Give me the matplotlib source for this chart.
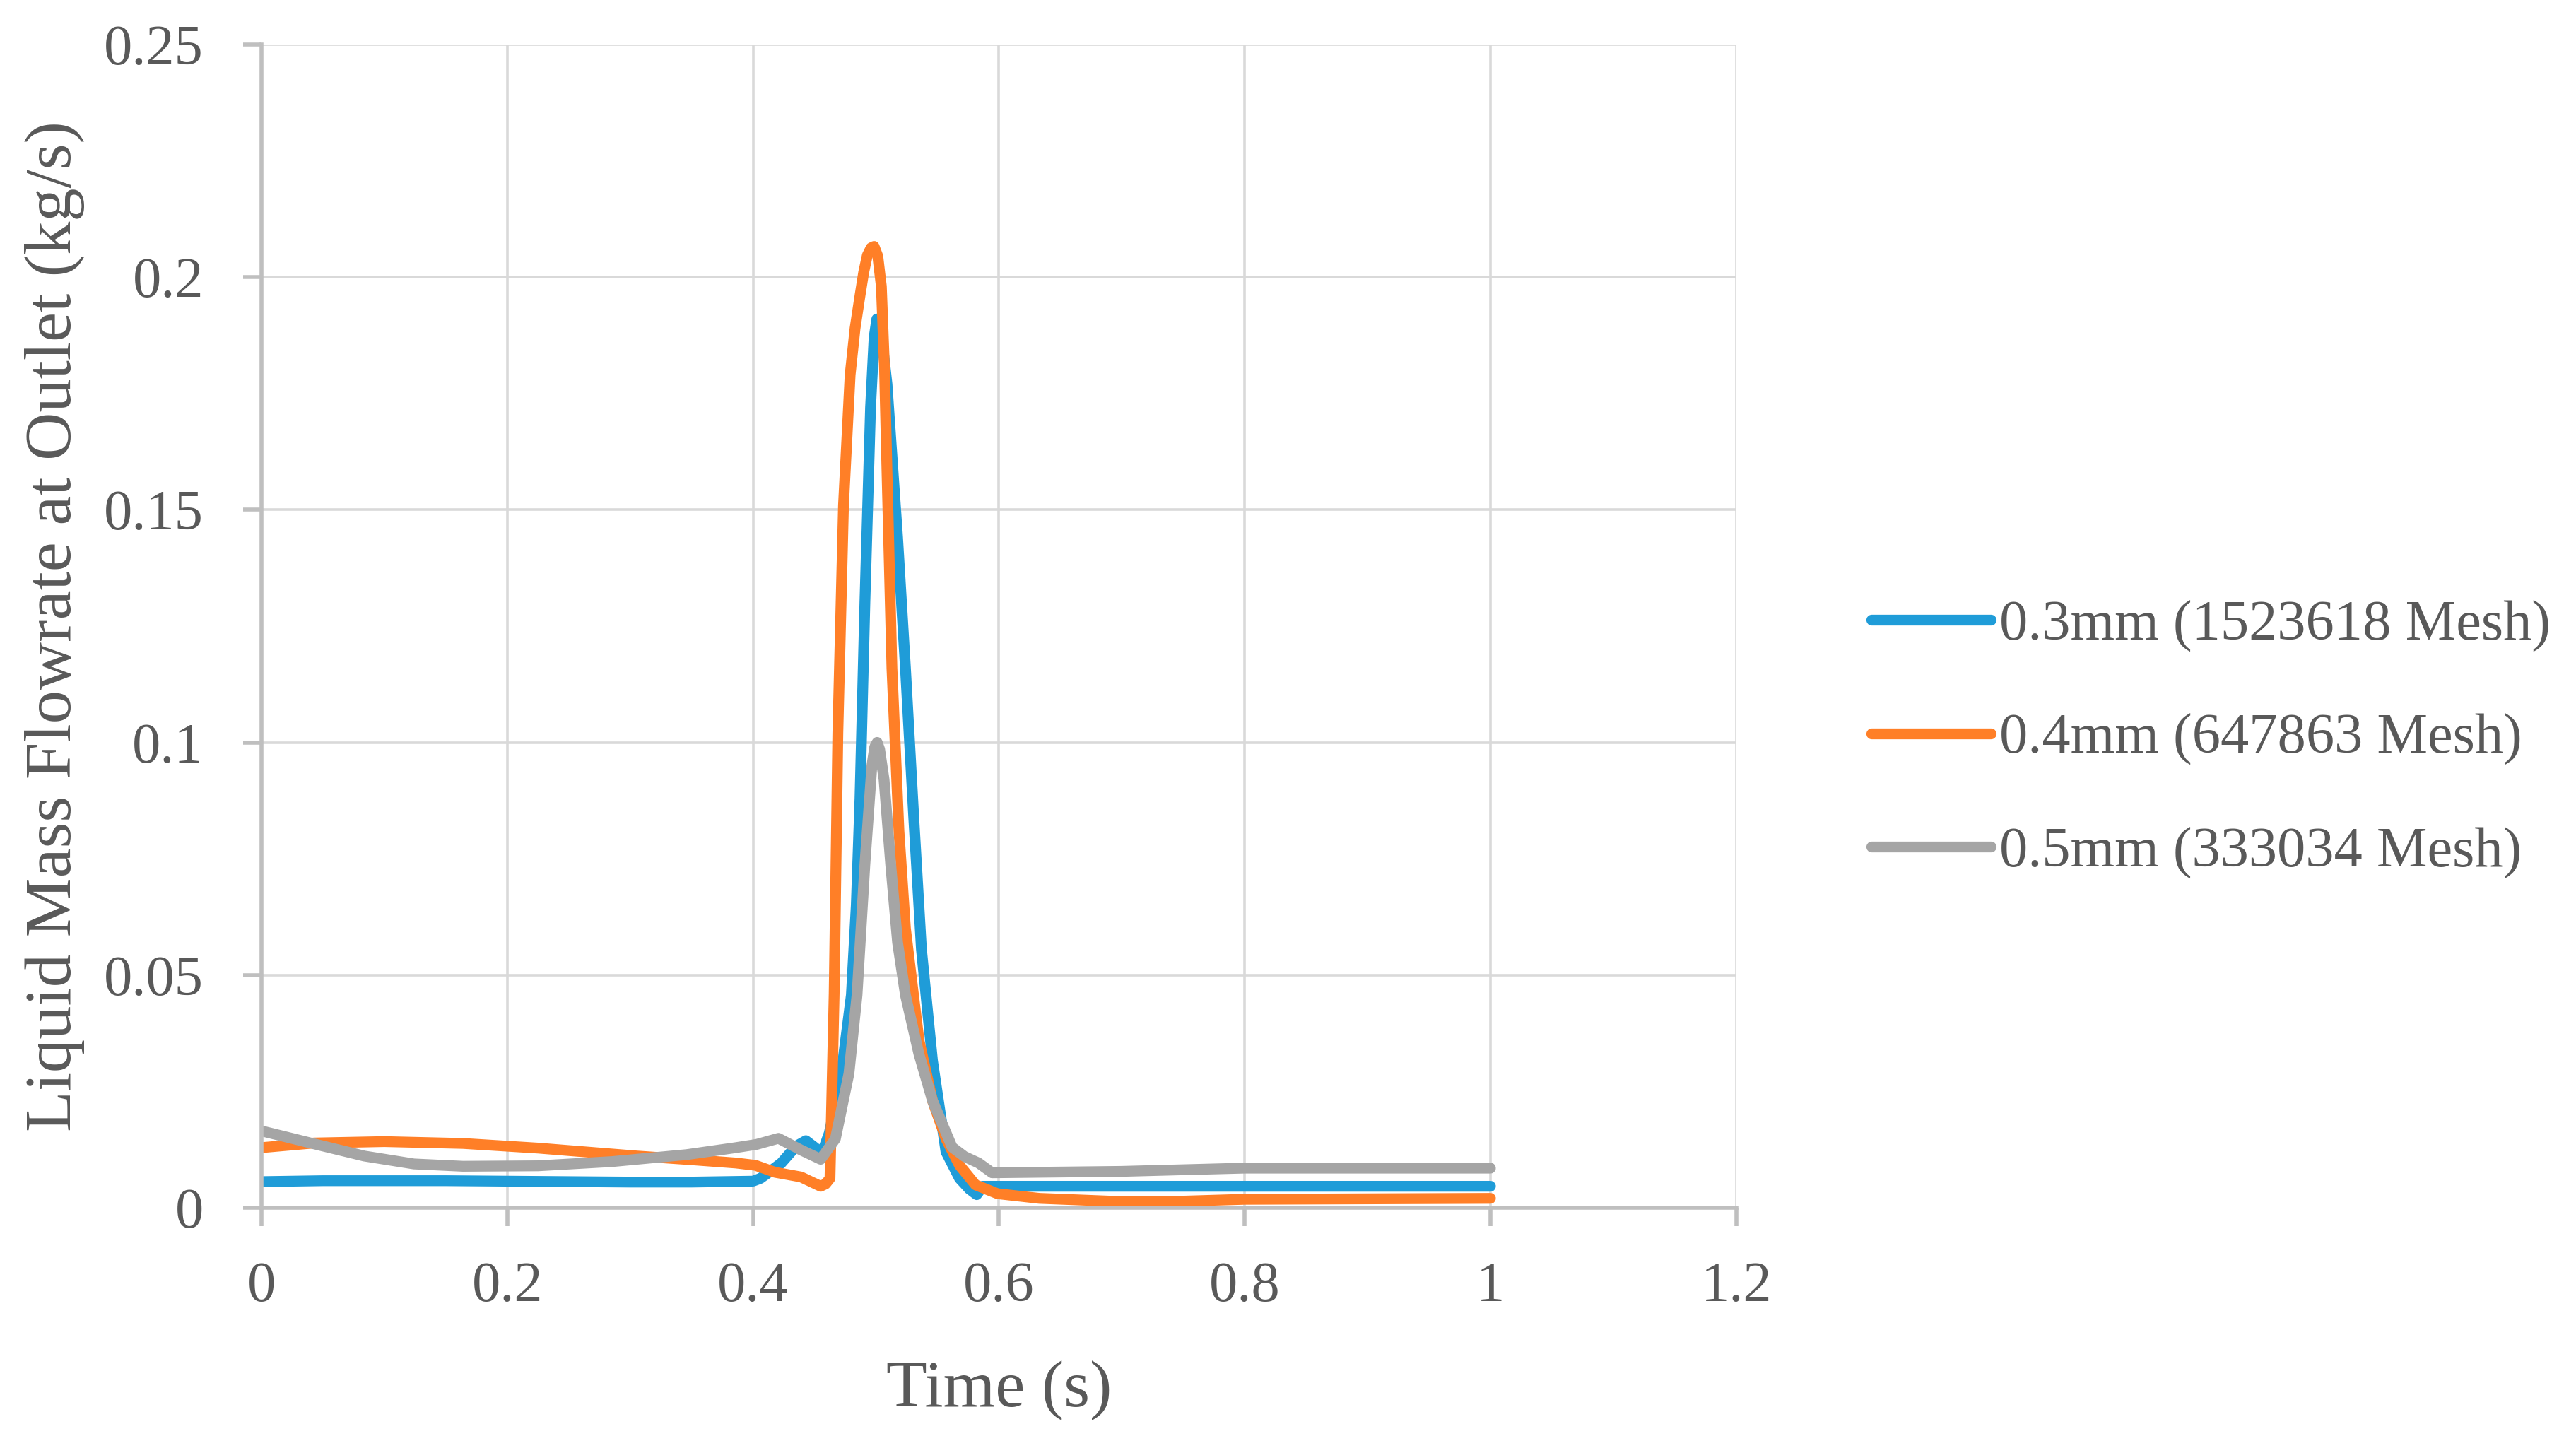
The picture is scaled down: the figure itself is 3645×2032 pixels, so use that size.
import matplotlib
matplotlib.use("Agg")
import matplotlib.pyplot as plt
from matplotlib.ticker import FormatStrFormatter

# values (time in s, flowrate in kg/s)
t_03 = [0, 0.05, 0.1, 0.15, 0.2, 0.25, 0.3, 0.35, 0.4, 0.406, 0.415, 0.423, 0.435,
        0.443, 0.45, 0.456, 0.462, 0.471, 0.48, 0.484, 0.487, 0.491, 0.4956, 0.4985,
        0.5007, 0.503, 0.506, 0.509, 0.5176, 0.524, 0.5308, 0.537, 0.546, 0.557,
        0.568, 0.576, 0.582, 0.587, 0.6, 0.7, 0.8, 0.9, 1.0]
q_03 = [0.0056, 0.0058, 0.0058, 0.0058, 0.0057, 0.0056, 0.0055, 0.0055, 0.0057, 0.0063,
        0.0080, 0.0096, 0.0132, 0.0144, 0.0130, 0.0116, 0.0160, 0.0270, 0.0457, 0.0650,
        0.0880, 0.1300, 0.1720, 0.1870, 0.1910, 0.1890, 0.1840, 0.1770, 0.1440, 0.1160,
        0.0837, 0.0556, 0.0316, 0.0120, 0.0063, 0.0040, 0.0028, 0.0046, 0.0046, 0.0046,
        0.0046, 0.0046, 0.0046]

t_04 = [0, 0.043, 0.1, 0.164, 0.225, 0.3056, 0.35, 0.386, 0.402, 0.418, 0.439, 0.455,
        0.459, 0.4626, 0.466, 0.469, 0.4736, 0.479, 0.483, 0.487, 0.490, 0.493, 0.496,
        0.4985, 0.5015, 0.5044, 0.507, 0.509, 0.513, 0.5187, 0.524, 0.535, 0.546,
        0.557, 0.568, 0.581, 0.599, 0.633, 0.7, 0.75, 0.8, 0.9, 1.0]
q_04 = [0.0129, 0.0139, 0.0142, 0.0138, 0.0128, 0.0111, 0.0103, 0.0096, 0.0091, 0.0076,
        0.0066, 0.0046, 0.0051, 0.0063, 0.0460, 0.1020, 0.1510, 0.1790, 0.1890, 0.1960,
        0.2010, 0.2047, 0.2063, 0.2066, 0.2045, 0.1980, 0.1800, 0.1580, 0.1160, 0.0810,
        0.0600, 0.0360, 0.0230, 0.0148, 0.0091, 0.0049, 0.0030, 0.0020, 0.0013, 0.0014,
        0.0018, 0.0019, 0.0020]

t_05 = [0, 0.043, 0.0836, 0.124, 0.164, 0.225, 0.285, 0.346, 0.386, 0.403, 0.4207,
        0.439, 0.455, 0.467, 0.478, 0.4846, 0.491, 0.4967, 0.499, 0.501, 0.503, 0.5066,
        0.512, 0.5176, 0.524, 0.535, 0.546, 0.562, 0.572, 0.5835, 0.5945, 0.6995, 0.8,
        0.9, 1.0]
q_05 = [0.0165, 0.0137, 0.0111, 0.0094, 0.0089, 0.0090, 0.0099, 0.0114, 0.0129, 0.0136,
        0.0149, 0.0124, 0.0104, 0.0148, 0.0288, 0.0457, 0.0738, 0.0950, 0.0990, 0.1000,
        0.0985, 0.0920, 0.0738, 0.0570, 0.0457, 0.0330, 0.0230, 0.0130, 0.0110, 0.0096,
        0.0075, 0.0078, 0.0085, 0.0085, 0.0085]

labels = ["0.3mm (1523618 Mesh)", "0.4mm (647863 Mesh)", "0.5mm (333034 Mesh)"]
colors = ["#1F9CD8", "#FF7F27", "#A5A5A5"]

text_color = "#595959"
plt.rcParams["font.family"] = ["Liberation Serif", "DejaVu Serif"]
plt.rcParams["font.size"] = 29

fig = plt.figure(figsize=(18.225, 10.16), dpi=200)
ax = fig.add_axes([0.1015, 0.159, 0.5725, 0.81])

series = [(t_03, q_03), (t_04, q_04), (t_05, q_05)]
for (t, q), lab, c in zip(series, labels, colors):
    ax.plot(t, q, color=c, lw=5.5, label=lab,
            solid_joinstyle="round", solid_capstyle="round")

ax.set_xlim(0, 1.2)
ax.set_ylim(0, 0.25)
ax.set_xticks([0, 0.2, 0.4, 0.6, 0.8, 1.0, 1.2])
ax.set_yticks([0, 0.05, 0.1, 0.15, 0.2, 0.25])
ax.xaxis.set_major_formatter(FormatStrFormatter("%g"))
ax.yaxis.set_major_formatter(FormatStrFormatter("%g"))

ax.grid(True, color="#D9D9D9", lw=1.3)
ax.set_axisbelow(True)
for s in ["top", "right"]:
    ax.spines[s].set_visible(False)
for s in ["left", "bottom"]:
    ax.spines[s].set_color("#BFBFBF")
    ax.spines[s].set_linewidth(2)

ax.tick_params(axis="both", direction="out", length=9.5, width=2,
               color="#BFBFBF", labelcolor=text_color, labelsize=29)
ax.tick_params(axis="x", pad=18)
ax.tick_params(axis="y", pad=20)

ax.set_xlabel("Time (s)", color=text_color, fontsize=34, labelpad=24)
ax.set_ylabel("Liquid Mass Flowrate at Outlet (kg/s)", color=text_color,
              fontsize=34, va="center")
ax.yaxis.set_label_coords(-0.14, 0.5)

leg = fig.legend(loc="center left", bbox_to_anchor=(0.7175, 0.485), frameon=False,
                 fontsize=29, handlelength=2.1, handletextpad=0.15,
                 labelspacing=1.08, borderaxespad=0)
for txt in leg.get_texts():
    txt.set_color(text_color)

fig.savefig("out.png", dpi=200, facecolor="white")
